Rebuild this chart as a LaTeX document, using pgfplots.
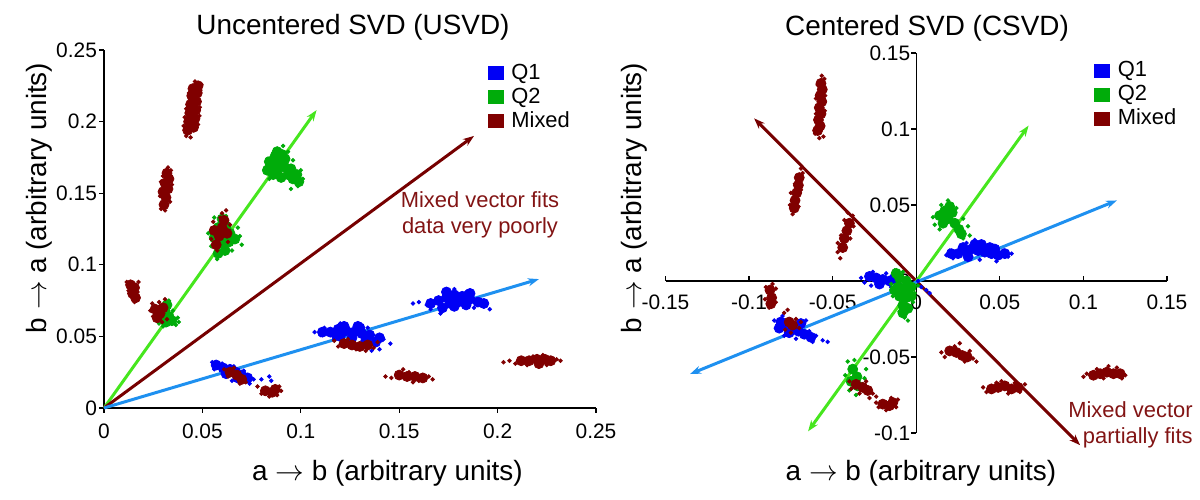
\documentclass[border=0pt]{standalone}
\usepackage{fontspec}
\setmainfont{Liberation Sans}
\usepackage{pgfplots}
\pgfplotsset{compat=1.18}
\usetikzlibrary{arrows.meta}
\definecolor{q1}{RGB}{0,0,245}
\definecolor{q2}{RGB}{0,172,10}
\definecolor{mx}{RGB}{128,0,0}
\definecolor{ab}{RGB}{30,144,240}
\definecolor{ag}{RGB}{70,230,30}
\definecolor{am}{RGB}{118,0,0}
\definecolor{tx}{RGB}{130,20,20}
\pgfplotsset{
  clu/.style={only marks, mark=*, mark size=2.5bp, forget plot, mark options={draw=none}},
  sca/.style={only marks, mark=*, mark size=0.9bp, forget plot, mark options={draw=none}},
  vec/.style={line width=1.5bp, forget plot, no marks},
  common/.style={
    scale only axis, scaled ticks=false,
    axis line style={black, line width=0.6bp},
    every tick/.style={black, line width=0.6bp},
    major tick length=2.5bp,
    tick label style={font=\fontsize{10.5}{12}\selectfont},
    /pgf/number format/assume math mode=true,
    /pgf/number format/fixed, /pgf/number format/precision=2,
    legend cell align=left,
    legend style={draw=none, fill=none, inner sep=0pt, outer sep=0pt,
      font=\fontsize{11}{12}\selectfont, row sep=0pt, column sep=2.8bp,
      nodes={inner sep=1bp, text height=8bp, text depth=2bp}},
  },
  sq/.style={legend image code/.code={\fill[#1] (0bp,-3bp) rectangle (7.5bp,3.5bp);}},
}
\begin{document}
\begin{tikzpicture}
% ---------------- Left panel ----------------
\begin{axis}[common,
  at={(52bp,46bp)}, anchor=south west, width=246bp, height=179bp,
  xmin=0, xmax=0.25, ymin=0, ymax=0.25,
  axis lines*=left, tick align=outside,
  xtick={0,0.05,0.1,0.15,0.2,0.25}, ytick={0,0.05,0.1,0.15,0.2,0.25},
  xticklabel style={yshift=-2bp}, yticklabel style={xshift=2.5bp},
  legend style={at={(0.7805,0.9684)}, anchor=north west},
  clip=false]
\addlegendimage{sq=q1}\addlegendentry{Q1}
\addlegendimage{sq=q2}\addlegendentry{Q2}
\addlegendimage{sq=mx}\addlegendentry{Mixed}
% vectors (beneath the points)
\addplot[vec, color=ag, -{Stealth[length=5.5bp,width=4bp]}] coordinates {(0,0) (0.108,0.208)};
\addplot[vec, color=am, -{Stealth[length=5.5bp,width=4bp]}] coordinates {(0,0) (0.188,0.190)};
\addplot[vec, color=ab, -{Stealth[length=5.5bp,width=4bp]}] coordinates {(0,0) (0.221,0.090)};
% Q1 (blue)
\addplot[clu, color=q1] coordinates {
(0.0570,0.030) (0.0605,0.028) (0.0640,0.027) (0.0670,0.025) (0.0700,0.023) (0.0730,0.021) (0.0620,0.024) (0.0680,0.021)
(0.1150,0.053) (0.1190,0.055) (0.1230,0.054) (0.1270,0.053) (0.1310,0.052) (0.1350,0.051) (0.1200,0.050) (0.1260,0.049) (0.1330,0.047) (0.1380,0.046) (0.1220,0.057) (0.1290,0.057)
(0.1110,0.053) (0.1300,0.056) (0.1400,0.049) (0.1180,0.051)
(0.1700,0.075) (0.1740,0.077) (0.1780,0.079) (0.1820,0.078) (0.1860,0.076) (0.1760,0.073) (0.1800,0.074) (0.1840,0.072) (0.1900,0.074) (0.1720,0.070)
(0.1660,0.073) (0.1780,0.071) (0.1860,0.080) (0.1930,0.073) (0.1740,0.081)};
\addplot[sca, color=q1] coordinates {
(0.0550,0.032) (0.0560,0.027) (0.0600,0.031) (0.0660,0.029) (0.0710,0.026) (0.0760,0.020) (0.0800,0.020) (0.0850,0.019) (0.0840,0.022) (0.0740,0.017) (0.0650,0.019)
(0.1070,0.053) (0.1100,0.051) (0.1120,0.056) (0.1200,0.059) (0.1340,0.056) (0.1420,0.048) (0.1455,0.045) (0.1400,0.041) (0.1360,0.040) (0.1170,0.048)
(0.1570,0.073) (0.1600,0.074) (0.1640,0.072) (0.1660,0.069) (0.1780,0.083) (0.1840,0.081) (0.1930,0.071) (0.1960,0.069) (0.1880,0.070) (0.1710,0.066)};
% Q2 (green)
\addplot[clu, color=q2] coordinates {
(0.0580,0.108) (0.0615,0.110) (0.0600,0.115) (0.0635,0.116) (0.0560,0.119) (0.0600,0.121) (0.0640,0.122) (0.0580,0.126) (0.0620,0.127) (0.0600,0.132) (0.0665,0.118)
(0.0850,0.170) (0.0880,0.166) (0.0890,0.172) (0.0920,0.168) (0.0870,0.176) (0.0905,0.177) (0.0935,0.163) (0.0960,0.160) (0.0950,0.167) (0.0860,0.163) (0.0900,0.161) (0.0980,0.163)
(0.0840,0.172) (0.0880,0.179) (0.0920,0.174) (0.0990,0.158) (0.0830,0.166)
(0.0310,0.068) (0.0330,0.064) (0.0315,0.060) (0.0345,0.061) (0.0290,0.063) (0.0320,0.072)};
\addplot[sca, color=q2] coordinates {
(0.0530,0.122) (0.0545,0.113) (0.0690,0.120) (0.0680,0.126) (0.0620,0.134) (0.0575,0.104) (0.0650,0.110) (0.0560,0.133) (0.0700,0.114)
(0.0820,0.168) (0.0830,0.174) (0.0880,0.181) (0.0910,0.183) (0.0960,0.173) (0.1000,0.166) (0.1010,0.160) (0.0985,0.155) (0.0950,0.153) (0.0840,0.160) (0.0935,0.179)
(0.0375,0.063) (0.0365,0.058) (0.0300,0.057) (0.0330,0.075) (0.0350,0.068) (0.0280,0.059) (0.0380,0.060)};
% Mixed (maroon)
\addplot[clu, color=mx] coordinates {
(0.0425,0.194) (0.0455,0.196) (0.0430,0.200) (0.0462,0.202) (0.0436,0.206) (0.0466,0.208) (0.0440,0.212) (0.0470,0.214) (0.0446,0.218) (0.0474,0.220) (0.0452,0.223) (0.0478,0.225)
(0.0305,0.142) (0.0315,0.147) (0.0300,0.151) (0.0325,0.153) (0.0310,0.157) (0.0330,0.160) (0.0320,0.164)
(0.0570,0.114) (0.0585,0.120) (0.0600,0.126) (0.0610,0.131) (0.0560,0.124) (0.0625,0.122)
(0.0135,0.086) (0.0155,0.084) (0.0145,0.080) (0.0160,0.077)
(0.0260,0.069) (0.0285,0.066) (0.0270,0.063) (0.0300,0.070)
(0.0640,0.025) (0.0675,0.023) (0.0700,0.020)
(0.0820,0.012) (0.0855,0.011) (0.0870,0.013)
(0.1220,0.045) (0.1260,0.044) (0.1300,0.043) (0.1340,0.044)
(0.1500,0.023) (0.1540,0.022) (0.1580,0.022) (0.1620,0.021)
(0.2120,0.033) (0.2160,0.033) (0.2200,0.034) (0.2240,0.034) (0.2270,0.033) (0.2210,0.031)};
\addplot[sca, color=mx] coordinates {
(0.0405,0.197) (0.0418,0.190) (0.0440,0.189) (0.0478,0.198) (0.0487,0.210) (0.0418,0.209) (0.0490,0.222) (0.0462,0.228) (0.0432,0.220) (0.0495,0.226) (0.0410,0.203) (0.0485,0.204)
(0.0290,0.139) (0.0335,0.144) (0.0285,0.148) (0.0345,0.156) (0.0290,0.158) (0.0340,0.166) (0.0325,0.168) (0.0300,0.162) (0.0310,0.138)
(0.0545,0.118) (0.0555,0.130) (0.0600,0.136) (0.0620,0.138) (0.0640,0.128) (0.0575,0.110) (0.0630,0.116) (0.0590,0.133)
(0.0115,0.088) (0.0175,0.088) (0.0125,0.082) (0.0170,0.081) (0.0155,0.074) (0.0165,0.075)
(0.0235,0.068) (0.0250,0.064) (0.0280,0.074) (0.0295,0.060) (0.0320,0.062) (0.0245,0.073) (0.0310,0.076)
(0.0610,0.027) (0.0660,0.028) (0.0720,0.018) (0.0690,0.017) (0.0630,0.022)
(0.0780,0.015) (0.0800,0.010) (0.0890,0.015) (0.0880,0.009) (0.0840,0.008) (0.0900,0.012)
(0.1170,0.047) (0.1190,0.043) (0.1280,0.041) (0.1330,0.040) (0.1370,0.042) (0.1390,0.046) (0.1240,0.048)
(0.1430,0.022) (0.1460,0.021) (0.1520,0.027) (0.1550,0.025) (0.1600,0.019) (0.1650,0.022) (0.1670,0.020) (0.1570,0.018)
(0.2030,0.032) (0.2060,0.033) (0.2090,0.031) (0.2180,0.036) (0.2230,0.037) (0.2300,0.034) (0.2320,0.033) (0.2250,0.030) (0.2150,0.030)};
\end{axis}
% ---------------- Right panel ----------------
\begin{axis}[common,
  at={(332.75bp,33.5bp)}, anchor=south west, width=250.75bp, height=190bp,
  xmin=-0.15, xmax=0.15, ymin=-0.1, ymax=0.15,
  axis lines*=middle, xtick align=inside, ytick align=outside,
  hide obscured x ticks=false, hide obscured y ticks=false,
  xtick={-0.15,-0.1,-0.05,0,0.05,0.1,0.15}, ytick={-0.1,-0.05,0,0.05,0.1,0.15},
  xticklabel style={yshift=-3.5bp}, yticklabel style={xshift=3bp},
  legend style={at={(0.8553,0.9842)}, anchor=north west},
  clip=false]
\addlegendimage{sq=q1}\addlegendentry{Q1}
\addlegendimage{sq=q2}\addlegendentry{Q2}
\addlegendimage{sq=mx}\addlegendentry{Mixed}
% Q1 (blue)
\addplot[clu, color=q1] coordinates {
(0.0250,0.018) (0.0290,0.020) (0.0330,0.021) (0.0370,0.020) (0.0410,0.019) (0.0450,0.018) (0.0490,0.017) (0.0310,0.016) (0.0390,0.024) (0.0440,0.022)
(0.0210,0.018) (0.0350,0.024) (0.0470,0.021) (0.0530,0.018) (0.0280,0.022)
(-0.0280,0.003) (-0.0240,0.002) (-0.0200,0.001) (-0.0160,0.000) (-0.0130,0.002) (-0.0220,-0.002)
(-0.0810,-0.027) (-0.0775,-0.029) (-0.0740,-0.031) (-0.0705,-0.033) (-0.0670,-0.035) (-0.0760,-0.034) (-0.0690,-0.028)
(-0.0630,-0.037) (-0.0820,-0.031)};
\addplot[sca, color=q1] coordinates {
(0.0180,0.017) (0.0200,0.020) (0.0220,0.015) (0.0300,0.025) (0.0350,0.027) (0.0520,0.020) (0.0550,0.016) (0.0570,0.018) (0.0480,0.013) (0.0380,0.014)
(-0.0330,0.002) (-0.0310,-0.001) (-0.0260,0.006) (-0.0180,0.005) (-0.0150,-0.004) (-0.0100,-0.002) (0.0030,-0.004) (0.0060,-0.006) (0.0080,-0.008) (0.0010,0.000) (-0.0270,-0.003)
(-0.0850,-0.026) (-0.0840,-0.031) (-0.0800,-0.023) (-0.0790,-0.036) (-0.0720,-0.038) (-0.0640,-0.033) (-0.0600,-0.036) (-0.0560,-0.039) (-0.0530,-0.040) (-0.0620,-0.040) (-0.0660,-0.026)};
% Q2 (green)
\addplot[clu, color=q2] coordinates {
(0.0140,0.043) (0.0170,0.046) (0.0190,0.041) (0.0160,0.038) (0.0215,0.045) (0.0230,0.038) (0.0255,0.034) (0.0270,0.031) (0.0200,0.049)
(-0.0100,0.002) (-0.0060,0.000) (-0.0110,-0.004) (-0.0070,-0.005) (-0.0030,-0.004) (-0.0100,-0.010) (-0.0060,-0.011) (-0.0080,-0.016) (-0.0050,-0.018) (-0.0120,0.005)
(-0.0130,-0.006) (-0.0030,-0.010) (-0.0080,-0.021)
(-0.0380,-0.058) (-0.0355,-0.063) (-0.0390,-0.066) (-0.0350,-0.069)};
\addplot[sca, color=q2] coordinates {
(0.0100,0.042) (0.0110,0.037) (0.0150,0.050) (0.0190,0.053) (0.0240,0.048) (0.0280,0.041) (0.0310,0.036) (0.0320,0.030) (0.0280,0.028) (0.0140,0.034)
(-0.0150,-0.002) (-0.0140,-0.010) (-0.0010,-0.008) (0.0010,-0.003) (-0.0020,-0.014) (-0.0100,-0.020) (-0.0070,-0.024) (-0.0050,-0.026) (-0.0130,0.007) (-0.0080,0.006)
(-0.0410,-0.053) (-0.0370,-0.052) (-0.0425,-0.062) (-0.0310,-0.064) (-0.0320,-0.071) (-0.0400,-0.072) (-0.0360,-0.075) (-0.0300,-0.058)};
% Mixed (maroon)
\addplot[clu, color=mx] coordinates {
(-0.0590,0.099) (-0.0575,0.102) (-0.0585,0.106) (-0.0570,0.110) (-0.0580,0.114) (-0.0565,0.118) (-0.0575,0.122) (-0.0562,0.126) (-0.0570,0.130)
(-0.0730,0.048) (-0.0725,0.053) (-0.0715,0.058) (-0.0705,0.063) (-0.0700,0.068)
(-0.0440,0.022) (-0.0430,0.028) (-0.0415,0.033) (-0.0400,0.038)
(-0.0875,-0.006) (-0.0865,-0.011) (-0.0870,-0.015)
(-0.0760,-0.027) (-0.0740,-0.029)
(-0.0360,-0.068) (-0.0320,-0.070) (-0.0290,-0.072)
(-0.0200,-0.081) (-0.0160,-0.082) (-0.0140,-0.080)
(0.0200,-0.046) (0.0240,-0.047) (0.0275,-0.049) (0.0305,-0.050)
(0.0450,-0.071) (0.0490,-0.070) (0.0530,-0.069) (0.0570,-0.071) (0.0610,-0.070)
(0.1060,-0.062) (0.1100,-0.061) (0.1140,-0.060) (0.1180,-0.061) (0.1220,-0.061)};
\addplot[sca, color=mx] coordinates {
(-0.0605,0.097) (-0.0555,0.095) (-0.0600,0.110) (-0.0548,0.112) (-0.0600,0.120) (-0.0545,0.122) (-0.0590,0.129) (-0.0550,0.133) (-0.0565,0.135) (-0.0580,0.094)
(-0.0755,0.050) (-0.0740,0.044) (-0.0705,0.049) (-0.0750,0.058) (-0.0690,0.060) (-0.0725,0.064) (-0.0680,0.071) (-0.0690,0.074)
(-0.0470,0.019) (-0.0455,0.015) (-0.0450,0.030) (-0.0395,0.028) (-0.0375,0.036) (-0.0380,0.043) (-0.0410,0.045) (-0.0430,0.040) (-0.0470,0.025)
(-0.0900,-0.004) (-0.0840,-0.005) (-0.0905,-0.012) (-0.0840,-0.014) (-0.0880,-0.0175) (-0.0860,-0.002)
(-0.0790,-0.021) (-0.0770,-0.019) (-0.0720,-0.025) (-0.0700,-0.031) (-0.0785,-0.032) (-0.0750,-0.034) (-0.0690,-0.027)
(-0.0400,-0.066) (-0.0390,-0.071) (-0.0340,-0.074) (-0.0260,-0.074) (-0.0240,-0.076) (-0.0300,-0.066) (-0.0280,-0.077)
(-0.0240,-0.080) (-0.0225,-0.083) (-0.0180,-0.085) (-0.0120,-0.083) (-0.0110,-0.078) (-0.0150,-0.077)
(0.0150,-0.047) (0.0170,-0.050) (0.0230,-0.043) (0.0260,-0.041) (0.0290,-0.053) (0.0340,-0.051) (0.0360,-0.053) (0.0320,-0.046)
(0.0400,-0.070) (0.0420,-0.073) (0.0480,-0.067) (0.0510,-0.066) (0.0550,-0.074) (0.0620,-0.073) (0.0650,-0.068) (0.0590,-0.067)
(0.1000,-0.063) (0.1020,-0.061) (0.1080,-0.058) (0.1150,-0.056) (0.1200,-0.057) (0.1250,-0.062) (0.1230,-0.064) (0.1120,-0.064)};
% vectors
\addplot[vec, color=am, {Stealth[length=5.5bp,width=4bp]}-{Stealth[length=5.5bp,width=4bp]}] coordinates {(-0.097,0.107) (0.098,-0.108)};
\addplot[vec, color=ag, {Stealth[length=5.5bp,width=4bp]}-{Stealth[length=5.5bp,width=4bp]}] coordinates {(-0.0647,-0.0989) (0.0672,0.1022)};
\addplot[vec, color=ab, {Stealth[length=5.5bp,width=4bp]}-{Stealth[length=5.5bp,width=4bp]}] coordinates {(-0.1353,-0.0612) (0.120,0.053)};
\end{axis}
% ---------------- Titles, labels, notes ----------------
\begin{scope}[every node/.style={inner sep=0pt}]
\node[font=\fontsize{14}{16}\selectfont] at (176.5bp,236.5bp) {Uncentered SVD (USVD)};
\node[font=\fontsize{14}{16}\selectfont] at (463.5bp,236bp) {Centered SVD (CSVD)};
\node[font=\fontsize{14}{16}\selectfont] at (193.75bp,13.5bp) {a $\rightarrow$ b (arbitrary units)};
\node[font=\fontsize{14}{16}\selectfont] at (460.5bp,13.5bp) {a $\rightarrow$ b (arbitrary units)};
\node[font=\fontsize{14}{16}\selectfont, rotate=90] at (19.5bp,151bp) {b $\rightarrow$ a (arbitrary units)};
\node[font=\fontsize{14}{16}\selectfont, rotate=90] at (317bp,151bp) {b $\rightarrow$ a (arbitrary units)};
\node[font=\fontsize{11}{13}\selectfont, text=tx, align=center] at (240bp,142.5bp) {Mixed vector fits\\data very poorly};
\node[font=\fontsize{11}{13}\selectfont, text=tx, align=right, anchor=east] at (596.5bp,37.5bp) {Mixed vector\\partially fits};
\end{scope}
\pgfresetboundingbox
\useasboundingbox (0,0) rectangle (600bp,250bp);
\end{tikzpicture}
\end{document}
